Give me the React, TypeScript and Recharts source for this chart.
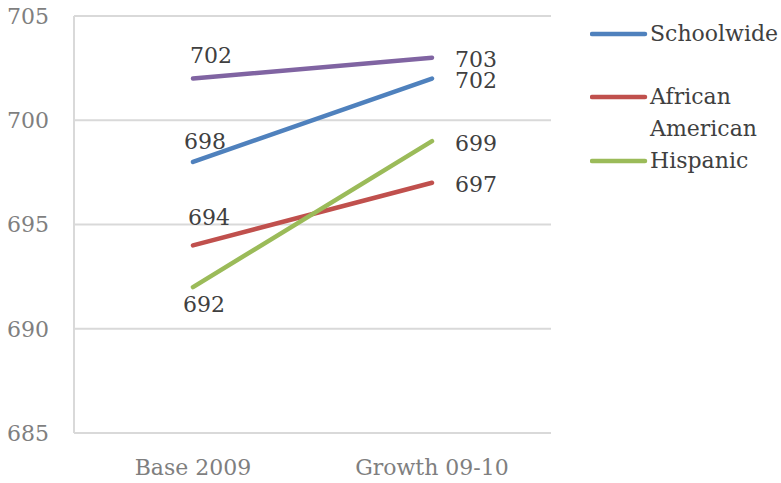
import React from 'react';
import {
  LineChart,
  Line,
  XAxis,
  YAxis,
  CartesianGrid,
  LabelList,
} from 'recharts';

const categories = ['Base 2009', 'Growth 09-10'];
const schoolwide = [698, 702];
const africanAmerican = [694, 697];
const hispanic = [692, 699];
const other = [702, 703];
const yTicks = [685, 690, 695, 700, 705];

const FONT = '"DejaVu Serif", serif';

const data = categories.map((name, i) => ({
  name,
  schoolwide: schoolwide[i],
  africanAmerican: africanAmerican[i],
  hispanic: hispanic[i],
  other: other[i],
}));

const legendItems = [
  { label: 'Schoolwide', color: '#4f81bd' },
  { label: 'African American', color: '#c0504d' },
  { label: 'Hispanic', color: '#9bbb59' },
];

// first point label is nudged (dx, dy) like the hand-placed labels; last point label sits to the right
const makeLabel = (dx: number, dy: number) => (props: any) => {
  const { x, y, value, index } = props;
  const first = index === 0;
  return (
    <text
      x={first ? x + dx : x + 23}
      y={first ? y + dy : y + 2}
      textAnchor={first ? 'middle' : 'start'}
      dominantBaseline="central"
      fontFamily={FONT}
      fontSize={22}
      fill="#404040"
    >
      {value}
    </text>
  );
};

export default function App() {
  return (
    <div style={{ position: 'absolute', left: 0, top: 0, width: 781, height: 483, background: '#fff' }}>
      <LineChart
        width={781}
        height={483}
        data={data}
        margin={{ top: 16, right: 230, bottom: 0, left: 0 }}
      >
        <CartesianGrid vertical={false} stroke="#d9d9d9" strokeWidth={2} />
        <XAxis
          dataKey="name"
          height={50}
          padding={{ left: 119, right: 119 }}
          axisLine={{ stroke: '#d9d9d9', strokeWidth: 2 }}
          tickLine={false}
          tickSize={0}
          tickMargin={26}
          tick={{ fontFamily: FONT, fontSize: 22, fill: '#7f7f7f' }}
        />
        <YAxis
          domain={[685, 705]}
          ticks={yTicks}
          width={74}
          axisLine={{ stroke: '#d9d9d9', strokeWidth: 2 }}
          tickLine={false}
          tickSize={0}
          tickMargin={25}
          tick={{ fontFamily: FONT, fontSize: 22, fill: '#7f7f7f' }}
        />
        <YAxis
          yAxisId="right"
          orientation="right"
          domain={[685, 705]}
          width={0}
          tick={false}
          tickLine={false}
          axisLine={{ stroke: '#d9d9d9', strokeWidth: 2 }}
        />
        <Line
          dataKey="schoolwide"
          stroke="#4f81bd"
          strokeWidth={4.5}
          strokeLinecap="round"
          dot={false}
          activeDot={false}
          isAnimationActive={false}
        >
          <LabelList dataKey="schoolwide" content={makeLabel(12, -20)} />
        </Line>
        <Line
          dataKey="africanAmerican"
          stroke="#c0504d"
          strokeWidth={4.5}
          strokeLinecap="round"
          dot={false}
          activeDot={false}
          isAnimationActive={false}
        >
          <LabelList dataKey="africanAmerican" content={makeLabel(16, -28)} />
        </Line>
        <Line
          dataKey="hispanic"
          stroke="#9bbb59"
          strokeWidth={4.5}
          strokeLinecap="round"
          dot={false}
          activeDot={false}
          isAnimationActive={false}
        >
          <LabelList dataKey="hispanic" content={makeLabel(11, 17)} />
        </Line>
        <Line
          dataKey="other"
          stroke="#8064a2"
          strokeWidth={4.5}
          strokeLinecap="round"
          dot={false}
          activeDot={false}
          legendType="none"
          isAnimationActive={false}
        >
          <LabelList dataKey="other" content={makeLabel(18, -23)} />
        </Line>
      </LineChart>
      <div
        style={{
          position: 'absolute',
          left: 590,
          top: 18,
          width: 191,
          fontFamily: FONT,
          fontSize: 22,
          lineHeight: '32px',
          color: '#404040',
        }}
      >
        {legendItems.map((item, i) => (
          <div key={item.label} style={{ display: 'flex', alignItems: 'flex-start', marginBottom: i === 0 ? 31 : 0 }}>
            <svg width={60} height={32} style={{ flex: 'none' }}>
              <line x1={2} y1={16} x2={55} y2={16} stroke={item.color} strokeWidth={4.5} strokeLinecap="round" />
            </svg>
            <span style={{ width: 131 }}>{item.label}</span>
          </div>
        ))}
      </div>
    </div>
  );
}
